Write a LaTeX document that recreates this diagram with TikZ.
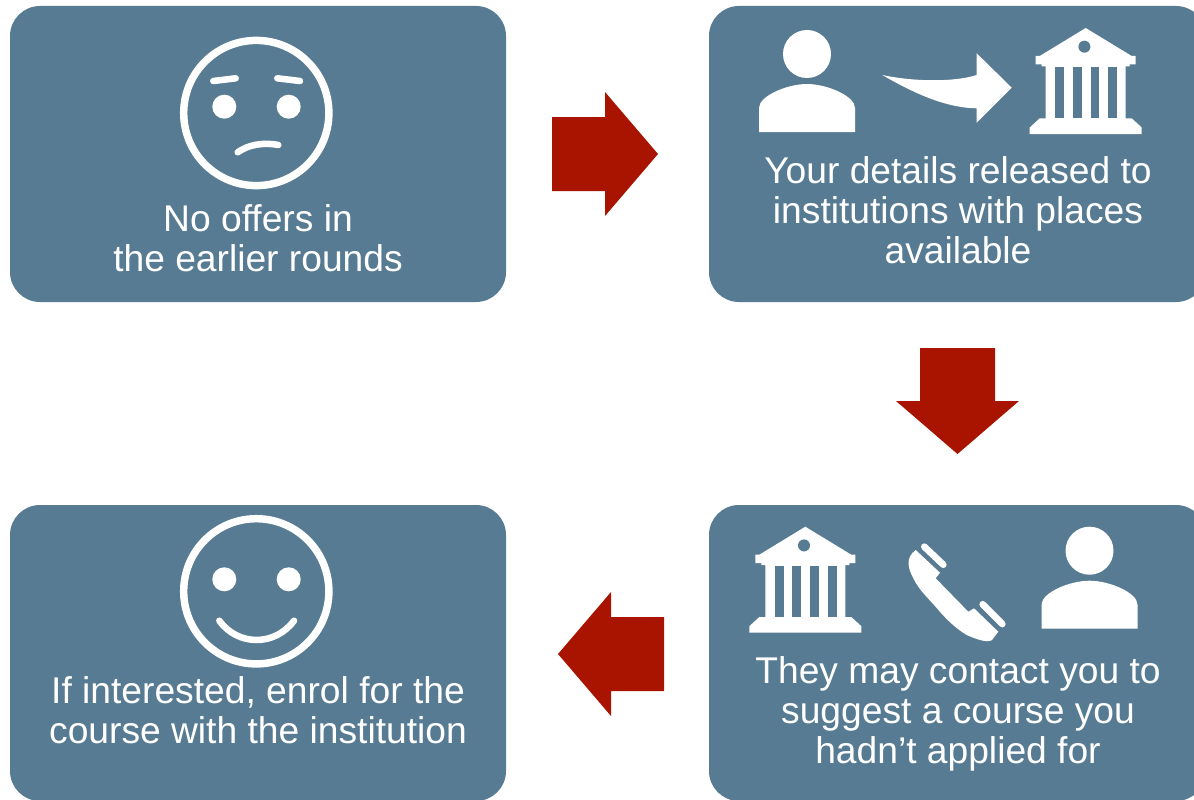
\documentclass[tikz,border=0pt]{standalone}
\usepackage{fontspec}
\setmainfont{Liberation Sans}
\definecolor{boxblue}{HTML}{577B92}
\definecolor{arrowred}{HTML}{A91400}
\tikzset{
  card/.style={fill=boxblue,draw=none,rounded corners=22.5pt},
  redarrow/.style={fill=arrowred,draw=none},
  lbl/.style={text=white,align=center,font=\fontsize{27.9}{30}\selectfont,inner sep=0pt},
  iconfill/.style={fill=white,draw=none},
  thin stroke/.style={draw=white,line width=4.9pt,line cap=round,fill=none},
  ring/.style={draw=white,line width=5.6pt,fill=none},
  person/.pic={
    \fill[white] (0,-78) circle[radius=24];
    \fill[white] (-48,0) -- (-48,-24) .. controls (-48,-36) and (-20,-48) .. (0,-48)
       .. controls (20,-48) and (48,-36) .. (48,-24) -- (48,0) -- cycle;
  },
  bank/.pic={
    \fill[white] (0,0) -- (46,28) -- (50,28) -- (50,36.3) -- (44,36.3) -- (44,38.5) -- (40,38.5) -- (40,90.3) -- (46,90.3)
      -- (56,99.5) -- (56,106) -- (-56,106) -- (-56,99.5) -- (-46,90.3) -- (-40,90.3) -- (-40,38.5) -- (-44,38.5) -- (-44,36.3)
      -- (-50,36.3) -- (-50,28) -- (-46,28) -- cycle;
    \fill[boxblue] (-1.3,18.7) circle[radius=6];
    \foreach \a/\b in {-30.7/-21.7,-13/-4,5/13.7,22.7/31.3}
      \fill[boxblue] (\a,39.3) rectangle (\b,90.3);
  },
}
\begin{document}
\begin{tikzpicture}[x=0.75pt,y=-0.75pt]
\useasboundingbox (0,0) rectangle (1194,799);
% cards
\path[card] (10,6) rectangle (506,302);
\path[card] (709,6) rectangle (1206,302);
\path[card] (709,505) rectangle (1206,801);
\path[card] (10,505) rectangle (506,801);
% labels
\node[lbl] (t1) at (258,238) {No offers in\\the earlier rounds};
\node[lbl] (t2) at (958,210) {Your details released to\\institutions with places\\available};
\node[lbl] (t3) at (958,714) {They may contact you to\\suggest a course you\\hadn’t applied for};
\node[lbl] (t4) at (258,710) {If interested, enrol for the\\course with the institution};
% red arrows
\path[redarrow] (552,117) -- (605,117) -- (605,92) -- (658,154) -- (605,216) -- (605,191) -- (552,191) -- cycle;
\path[redarrow] (920,348) -- (995,348) -- (995,401) -- (1019,401) -- (957.5,454) -- (896,401) -- (920,401) -- cycle;
\path[redarrow] (664,617) -- (611,617) -- (611,592) -- (558,654) -- (611,716) -- (611,691) -- (664,691) -- cycle;
% sad face
\draw[ring] (256.3,113) circle[radius=72.6];
\fill[white] (224.3,106.7) circle[radius=12] (288.7,106.7) circle[radius=12];
\draw[thin stroke] (213.3,81) -- (235.7,78.3);
\draw[thin stroke] (277.3,78.3) -- (300,81);
\draw[thin stroke] (237.7,152.3) .. controls (248,145) and (262,142) .. (278.3,145);
% happy face
\draw[ring] (256.3,591.3) circle[radius=72.6];
\fill[white] (224.3,579.3) circle[radius=12] (288.7,579.3) circle[radius=12];
\draw[thin stroke] (219.3,620.7) .. controls (238,646.4) and (275,646.4) .. (294,620.7);
% top right icons
\pic at (807,132) {person};
\pic at (1085.7,28) {bank};
\fill[white] (882.3,75) .. controls (915,82) and (955,82) .. (976.7,75) -- (976.7,53.3) -- (1011.7,87.7)
  -- (976.7,122.7) -- (976.7,108.3) .. controls (950,108) and (920,97) .. (882.3,75) -- cycle;
% bottom right icons
\pic at (805.3,526.7) {bank};
\pic at (1089.5,628.7) {person};
\fill[white] (915.7,550) -- (940,572.7) -- (935.7,578.3) -- (968.3,611.7) -- (974,608.3) -- (998.3,631.7)
  -- (992,640) .. controls (988,643) and (978,640) .. (966.7,635) .. controls (955,628) and (945,618) .. (936.7,608)
  .. controls (928,598) and (919,590) .. (913.3,578.3) .. controls (908,568) and (905,558) .. (915.7,550) -- cycle;
\draw[white,line width=5pt,line cap=round] (924.3,546.7) -- (943.3,564.7);
\draw[white,line width=5pt,line cap=round] (982.7,604.3) -- (1002.3,624);
\end{tikzpicture}
\end{document}
